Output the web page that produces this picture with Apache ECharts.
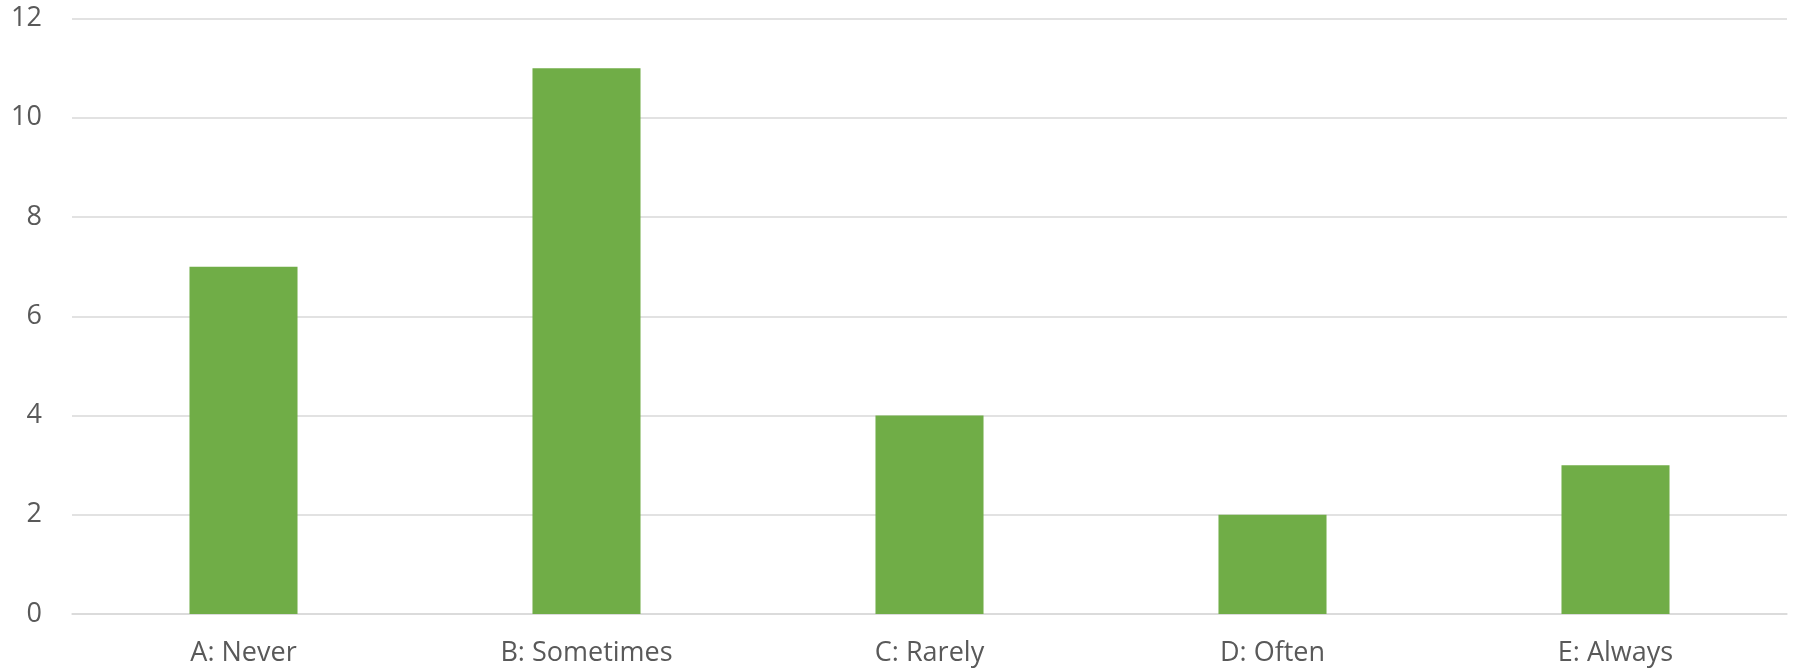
<!DOCTYPE html>
<html>
<head>
<meta charset="utf-8">
<script src="https://cdn.jsdelivr.net/npm/echarts@6/dist/echarts.min.js"></script>
<style>
  html, body { margin: 0; padding: 0; background: #fff; }
  #chart { width: 1796px; height: 671px; }
</style>
</head>
<body>
<div id="chart"></div>
<script>
var categories = ['A: Never', 'B: Sometimes', 'C: Rarely', 'D: Often', 'E: Always'];
var counts = [7, 11, 4, 2, 3];

var chart = echarts.init(document.getElementById('chart'));
chart.setOption({
    backgroundColor: '#ffffff',
    animation: false,
    grid: {
        left: 72,
        right: 9,
        top: 18.5,
        bottom: 57
    },
    xAxis: {
        type: 'category',
        data: categories,
        axisLine: { lineStyle: { color: '#d9d9d9', width: 1.5 } },
        axisTick: { show: false },
        axisLabel: {
            color: '#595959',
            fontFamily: 'Open Sans',
            fontSize: 27,
            margin: 26
        }
    },
    yAxis: {
        type: 'value',
        min: 0,
        max: 12,
        interval: 2,
        axisLine: { show: false },
        axisTick: { show: false },
        splitLine: { lineStyle: { color: '#d9d9d9', width: 1.5 } },
        axisLabel: {
            color: '#595959',
            fontFamily: 'Open Sans',
            fontSize: 27,
            margin: 30
        }
    },
    series: [{
        type: 'bar',
        data: counts,
        barWidth: '31.5%',
        itemStyle: { color: '#70ad47' }
    }]
});
</script>
</body>
</html>
